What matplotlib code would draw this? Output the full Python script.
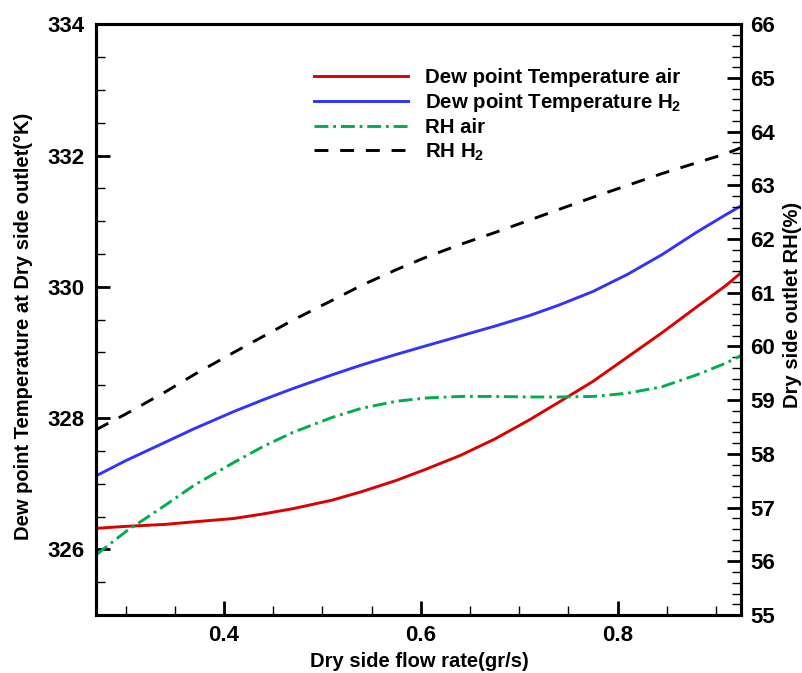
import matplotlib
matplotlib.use("Agg")
import matplotlib.pyplot as plt
from matplotlib.ticker import MultipleLocator, FormatStrFormatter

plt.rcParams["font.family"] = ["Liberation Sans", "DejaVu Sans"]
plt.rcParams["font.weight"] = "bold"
plt.rcParams["mathtext.fontset"] = "custom"
plt.rcParams["mathtext.rm"] = "Liberation Sans:bold"
plt.rcParams["mathtext.bf"] = "Liberation Sans:bold"
plt.rcParams["mathtext.it"] = "Liberation Sans:bold"
plt.rcParams["mathtext.default"] = "rm"
plt.rcParams["lines.scale_dashes"] = False

# Dry side flow rate (gr/s)
flow_rate = [0.27, 0.30, 0.34, 0.37, 0.41, 0.44, 0.47, 0.51, 0.54, 0.575, 0.605,
             0.64, 0.675, 0.71, 0.74, 0.775, 0.81, 0.845, 0.88, 0.91, 0.925]

# Dew point temperature at dry side outlet (K)
dew_air = [326.32, 326.35, 326.38, 326.42, 326.47, 326.54, 326.62, 326.75, 326.88,
           327.05, 327.22, 327.43, 327.68, 327.97, 328.24, 328.56, 328.93, 329.30,
           329.69, 330.02, 330.21]
dew_h2 = [327.12, 327.35, 327.63, 327.84, 328.10, 328.28, 328.45, 328.66, 328.81,
          328.97, 329.10, 329.25, 329.40, 329.56, 329.72, 329.93, 330.19, 330.49,
          330.83, 331.10, 331.23]

# Relative humidity at dry side outlet (%)
rh_air = [56.12, 56.55, 57.04, 57.42, 57.84, 58.14, 58.40, 58.68, 58.85, 58.98,
          59.04, 59.07, 59.07, 59.06, 59.06, 59.07, 59.13, 59.25, 59.47, 59.69, 59.83]
rh_h2 = [58.45, 58.74, 59.15, 59.48, 59.89, 60.19, 60.49, 60.86, 61.14, 61.43,
         61.66, 61.90, 62.12, 62.35, 62.55, 62.78, 63.00, 63.22, 63.42, 63.59, 63.70]

fig = plt.figure(figsize=(8.03, 6.73), dpi=100)
ax = fig.add_axes([0.1196, 0.0862, 0.8028, 0.8777])
ax2 = ax.twinx()

lw = 2.1
style = dict(lw=lw, solid_joinstyle="round", dash_joinstyle="round")
l1, = ax.plot(flow_rate, dew_air, color="#dd0000", label="Dew point Temperature air", **style)
l2, = ax.plot(flow_rate, dew_h2, color="#3333ff", label="Dew point Temperature H$_2$", **style)
l3, = ax2.plot(flow_rate, rh_air, color="#00ad4f", label="RH air", **style)
l3.set_dashes([10, 3.5, 2, 3.5])
l4, = ax2.plot(flow_rate, rh_h2, color="black", label="RH H$_2$", **style)
l4.set_dashes([10, 8.5])

ax.set_xlim(0.27, 0.925)
ax.set_ylim(325, 334)
ax2.set_ylim(55, 66)

ax.xaxis.set_major_locator(MultipleLocator(0.2))
ax.xaxis.set_minor_locator(MultipleLocator(0.05))
ax.xaxis.set_major_formatter(FormatStrFormatter("%.1f"))
ax.yaxis.set_major_locator(MultipleLocator(2))
ax.yaxis.set_minor_locator(MultipleLocator(0.5))
ax2.yaxis.set_major_locator(MultipleLocator(1))
ax2.yaxis.set_minor_locator(MultipleLocator(0.2))

for a in (ax, ax2):
    for s in a.spines.values():
        s.set_linewidth(2.2)
    a.tick_params(which="major", direction="in", length=10, width=2, labelsize=16)
    a.tick_params(which="minor", direction="in", length=6.5, width=1)

ax.tick_params(axis="x", which="both", top=False, pad=7)
ax.tick_params(axis="y", which="both", right=False, pad=8.5)
ax2.tick_params(axis="y", which="both", left=False, right=True, pad=7)

ax.set_xlabel("Dry side flow rate(gr/s)", fontsize=14.5, fontweight="bold")
ax.xaxis.set_label_coords(0.501, -0.079)
ax.xaxis.label.set_verticalalignment("center")

ax.set_ylabel("Dew point Temperature at Dry side outlet(\u00b0K)", fontsize=14.5, fontweight="bold")
ax.yaxis.set_label_coords(-0.112, 0.488)
ax.yaxis.label.set_verticalalignment("center")

ax2.set_ylabel("Dry side outlet RH(%)", fontsize=14.5, fontweight="bold")
ax2.yaxis.set_label_coords(1.081, 0.525)
ax2.yaxis.label.set_verticalalignment("center")
ax2.yaxis.label.set_rotation(90)

leg = ax2.legend(handles=[l1, l2, l3, l4], loc="upper left",
                 bbox_to_anchor=(314 / 803, 1 - 68 / 673), bbox_transform=fig.transFigure,
                 frameon=False, fontsize=14.7, handlelength=4.6, handletextpad=0.85,
                 labelspacing=0.2, borderpad=0, borderaxespad=0)

fig.savefig("out.png", dpi=100)
